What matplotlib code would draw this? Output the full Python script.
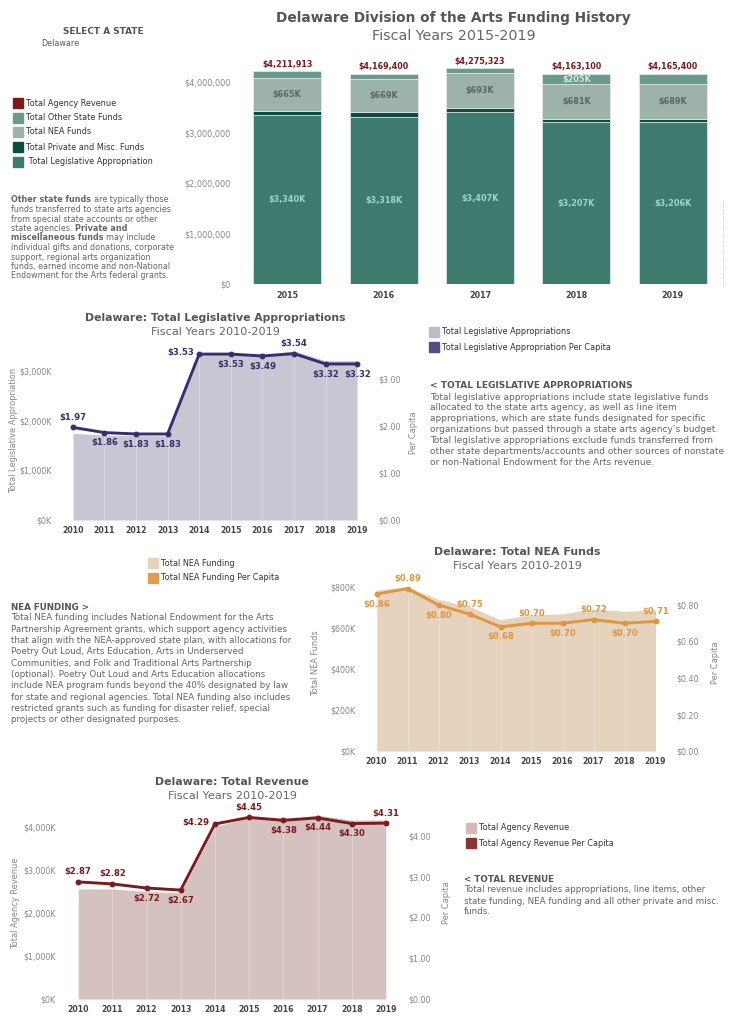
import matplotlib
matplotlib.use('Agg')
import matplotlib.pyplot as plt
from matplotlib.patches import Rectangle

plt.rcParams['font.family'] = ['DejaVu Sans']

W, H = 731, 1024

# ---- top stacked bars (FY 2015-2019) ----
bar_years = ['2015', '2016', '2017', '2018', '2019']
leg_approp = [3340000, 3318000, 3407000, 3207000, 3206000]
private_misc = [85000, 82000, 88000, 70000, 68000]
nea_funds = [665000, 669000, 693000, 681000, 689000]
other_state = [122000, 100000, 87000, 205000, 202000]
total_rev = [4211913, 4169400, 4275323, 4163100, 4165400]
other_lbl_show = [False, False, False, True, False]

# ---- time series (FY 2010-2019), totals in $K ----
ts_years = ['2010', '2011', '2012', '2013', '2014', '2015', '2016', '2017', '2018', '2019']
leg_total = [1745, 1710, 1700, 1695, 3330, 3340, 3318, 3407, 3207, 3206]
leg_pc = [1.97, 1.86, 1.83, 1.83, 3.53, 3.53, 3.49, 3.54, 3.32, 3.32]
leg_lbl_pos = ['up', 'down', 'down', 'down', 'left', 'down', 'down', 'up', 'down', 'down']

nea_total = [785, 800, 740, 705, 640, 665, 669, 693, 681, 689]
nea_pc = [0.86, 0.89, 0.80, 0.75, 0.68, 0.70, 0.70, 0.72, 0.70, 0.71]
nea_lbl_pos = ['down', 'up', 'down', 'up', 'down', 'up', 'down', 'up', 'down', 'up']

rev_total = [2560, 2560, 2500, 2470, 4010, 4212, 4169, 4275, 4163, 4165]
rev_pc = [2.87, 2.82, 2.72, 2.67, 4.29, 4.45, 4.38, 4.44, 4.30, 4.31]
rev_lbl_pos = ['up', 'up', 'down', 'down', 'left', 'up', 'down', 'down', 'down', 'up']

# colours
c_leg = '#3e7b6f'
c_priv = '#0c4c3e'
c_nea = '#9db2a8'
c_other = '#6b998c'
c_rev = '#7a1a1a'
c_title = '#555555'
c_tick = '#888888'
c_body = '#666666'

fig = plt.figure(figsize=(W / 100, H / 100), dpi=100)
R = fig.canvas.get_renderer()


def fx(x):
    return x / W


def fy(y):
    return 1 - y / H


def ax_px(x0, y0, x1, y1):
    return fig.add_axes([x0 / W, 1 - y1 / H, (x1 - x0) / W, (y1 - y0) / H])


def fit(txt, width, bold=False):
    # font size that makes txt about `width` pixels wide
    t = fig.text(0, 0, txt, fontsize=10, fontweight='bold' if bold else 'normal')
    w = t.get_window_extent(renderer=R).width
    t.remove()
    return 10 * width / w


def clean(ax):
    for s in ax.spines.values():
        s.set_visible(False)
    ax.tick_params(length=0)
    ax.set_facecolor('none')


LEG_SIZE = fit('Total Agency Revenue', 90)
TICK_SIZE = 5.85
TS_TICK = 5.7
AXT_SIZE = fit('Total Legislative Appropriation', 126)


def legend_item(x, y, color, label):
    fig.patches.append(Rectangle((fx(x), fy(y + 5)), 10 / W, 10 / H, color=color,
                                 transform=fig.transFigure, figure=fig))
    fig.text(fx(x + 13), fy(y), label, fontsize=LEG_SIZE, color='#333333', va='center')


def para(x, y, lines, step, size, color=c_body):
    gap = size * 0.318 * 100 / 72
    for i, runs in enumerate(lines):
        if isinstance(runs, str):
            runs = [(runs, False)]
        cx = x
        for txt, bold in runs:
            t = fig.text(fx(cx), fy(y + i * step), txt, fontsize=size, color=color,
                         fontweight='bold' if bold else 'normal', va='center', ha='left')
            cx += t.get_window_extent(renderer=R).width + gap


def sect_title(x, y, title, width):
    fig.text(fx(x), fy(y), title, fontsize=fit(title, width, True), fontweight='bold',
             color=c_title, ha='center', va='center')
    fig.text(fx(x), fy(y + 14), 'Fiscal Years 2010-2019', fontsize=fit('Fiscal Years 2010-2019', 128),
             color='#666666', ha='center', va='center')


def heading(x, y, txt, width):
    fig.text(fx(x), fy(y), txt, fontsize=fit(txt, width, True), fontweight='bold',
             color='#555555', va='center')


# ================= header =================
ttl = 'Delaware Division of the Arts Funding History'
fig.text(fx(453), fy(18), ttl, fontsize=fit(ttl, 356, True), fontweight='bold', color=c_title,
         ha='center', va='center')
fig.text(fx(454), fy(36), 'Fiscal Years 2015-2019', fontsize=fit('Fiscal Years 2015-2019', 163),
         color='#666666', ha='center', va='center')
fig.text(fx(103), fy(32), 'SELECT A STATE', fontsize=fit('SELECT A STATE', 80, True),
         fontweight='bold', color='#555555', ha='center', va='center')
fig.text(fx(41), fy(43), 'Delaware', fontsize=fit('Delaware', 38), color='#555555', va='center')

legend_item(13, 103, c_rev, 'Total Agency Revenue')
legend_item(13, 118, c_other, 'Total Other State Funds')
legend_item(13, 132, c_nea, 'Total NEA Funds')
legend_item(13, 147, c_priv, 'Total Private and Misc. Funds')
legend_item(13, 162, c_leg, ' Total Legislative Appropriation')

para(11, 200, [
    [('Other state funds', True), ('are typically those', False)],
    'funds transferred to state arts agencies',
    'from special state accounts or other',
    [('state agencies.', False), ('Private and', True)],
    [('miscellaneous funds', True), ('may include', False)],
    'individual gifts and donations, corporate',
    'support, regional arts organization',
    'funds, earned income and non-National',
    'Endowment for the Arts federal grants.',
], 9.5, fit('individual gifts and donations, corporate', 162))

# ================= stacked bar chart =================
ax = ax_px(239, 62, 721, 284)
clean(ax)
xs = list(range(len(bar_years)))
bottom = [0] * len(xs)
for vals, col in [(leg_approp, c_leg), (private_misc, c_priv), (nea_funds, c_nea), (other_state, c_other)]:
    ax.bar(xs, vals, width=0.705, bottom=bottom, color=col, edgecolor='#e6ecea', linewidth=0.5)
    bottom = [b + v for b, v in zip(bottom, vals)]

for i in xs:
    ax.annotate(f'${total_rev[i]:,}', (i, bottom[i]), xytext=(0, 2), textcoords='offset points',
                ha='center', va='bottom', fontsize=5.8, fontweight='bold', color=c_rev)
    ax.text(i, leg_approp[i] / 2, f'${leg_approp[i] / 1000:,.0f}K', ha='center', va='center',
            fontsize=5.9, fontweight='bold', color='#9dd6c6')
    nb = leg_approp[i] + private_misc[i]
    ax.text(i, nb + nea_funds[i] / 2, f'${nea_funds[i] / 1000:,.0f}K', ha='center', va='center',
            fontsize=5.9, fontweight='bold', color='#5a6863')
    if other_lbl_show[i]:
        ob = nb + nea_funds[i]
        ax.text(i, ob + other_state[i] / 2, f'${other_state[i] / 1000:,.0f}K', ha='center',
                va='center', fontsize=5.9, fontweight='bold', color='#cdeee4')

ax.set_xlim(-0.5, 4.5)
ax.set_ylim(0, 4400000)
ax.set_yticks([0, 1000000, 2000000, 3000000, 4000000])
ax.set_yticklabels(['$0', '$1,000,000', '$2,000,000', '$3,000,000', '$4,000,000'])
ax.set_xticks(xs)
ax.set_xticklabels(bar_years)
ax.tick_params(axis='y', colors=c_tick, labelsize=TICK_SIZE, pad=6)
ax.tick_params(axis='x', colors='#444444', labelsize=5.8, pad=5)
for lb in ax.get_xticklabels():
    lb.set_fontweight('bold')
fig.add_artist(plt.Line2D([fx(723), fx(723)], [fy(200), fy(288)], color='#bbbbbb',
                          linestyle=':', linewidth=0.6))


def ts_chart(box, totals, pcs, pos, area_col, line_col, left_top, right_top,
             left_ticks, left_lbls, right_ticks, right_lbls):
    a1 = ax_px(*box)
    clean(a1)
    xs = list(range(len(ts_years)))
    a1.fill_between(xs, 0, totals, color=area_col, linewidth=0)
    a1.vlines(xs, 0, totals, color='white', alpha=0.35, linewidth=0.6)
    a1.set_xlim(-0.5, 9.5)
    a1.set_ylim(0, left_top)
    a1.set_yticks(left_ticks)
    a1.set_yticklabels(left_lbls)
    a1.set_xticks(xs)
    a1.set_xticklabels(ts_years)
    a1.tick_params(axis='y', colors=c_tick, labelsize=TS_TICK, pad=4)
    a1.tick_params(axis='x', colors='#444444', labelsize=5.6, pad=4)
    for lb in a1.get_xticklabels():
        lb.set_fontweight('bold')
    a2 = a1.twinx()
    clean(a2)
    a2.plot(xs, pcs, color=line_col, linewidth=2.1, marker='o', markersize=3.2)
    a2.set_ylim(0, right_top)
    a2.set_yticks(right_ticks)
    a2.set_yticklabels(right_lbls)
    a2.tick_params(axis='y', colors=c_tick, labelsize=TS_TICK, pad=4)
    offs = {'up': (0, 4, 'center', 'bottom'), 'down': (0, -4, 'center', 'top'),
            'left': (-4, 1, 'right', 'center')}
    for i in xs:
        dx, dy, ha, va = offs[pos[i]]
        a2.annotate(f'${pcs[i]:.2f}', (i, pcs[i]), xytext=(dx, dy), textcoords='offset points',
                    ha=ha, va=va, fontsize=6.1, fontweight='bold', color=line_col)
    return a1, a2


def axis_title(x, y, txt):
    fig.text(fx(x), fy(y), txt, rotation=90, fontsize=AXT_SIZE, color=c_tick,
             ha='center', va='center')


# ================= legislative appropriations =================
sect_title(215, 318, 'Delaware: Total Legislative Appropriations', 263)
ts_chart((57, 340, 373, 520), leg_total, leg_pc, leg_lbl_pos, '#c9c6d3', '#3b2c6b',
         (520 - 340) / 49.67 * 1000, (520 - 340) / 47.0,
         [0, 1000, 2000, 3000], ['$0K', '$1,000K', '$2,000K', '$3,000K'],
         [0, 1, 2, 3], ['$0.00', '$1.00', '$2.00', '$3.00'])
axis_title(14, 430, 'Total Legislative Appropriation')
axis_title(413, 433, 'Per Capita')
legend_item(429, 332, '#bdbac9', 'Total Legislative Appropriations')
legend_item(429, 347, '#574a85', 'Total Legislative Appropriation Per Capita')
heading(430, 385, '< TOTAL LEGISLATIVE APPROPRIATIONS', 202)
para(430, 397, [
    'Total legislative appropriations include state legislative funds',
    'allocated to the state arts agency, as well as line item',
    'appropriations, which are state funds designated for specific',
    'organizations but passed through a state arts agency\u2019s budget.',
    'Total legislative appropriations exclude funds transferred from',
    'other state departments/accounts and other sources of nonstate',
    'or non-National Endowment for the Arts revenue.',
], 10.9, fit('Total legislative appropriations include state legislative funds', 277))

# ================= NEA funds =================
sect_title(517, 552, 'Delaware: Total NEA Funds', 167)
ts_chart((361, 578, 671, 751), nea_total, nea_pc, nea_lbl_pos, '#e6d3bd', '#df963e',
         (751 - 578) / 0.205, (751 - 578) / 182.5,
         [0, 200, 400, 600, 800], ['$0K', '$200K', '$400K', '$600K', '$800K'],
         [0, 0.2, 0.4, 0.6, 0.8], ['$0.00', '$0.20', '$0.40', '$0.60', '$0.80'])
axis_title(316, 663, 'Total NEA Funds')
axis_title(716, 663, 'Per Capita')
legend_item(148, 563, '#e6d3bd', 'Total NEA Funding')
legend_item(148, 578, '#df9d52', 'Total NEA Funding Per Capita')
heading(11, 607, 'NEA FUNDING >', 79)
para(11, 618, [
    'Total NEA funding includes National Endowment for the Arts',
    'Partnership Agreement grants, which support agency activities',
    'that align with the NEA-approved state plan, with allocations for',
    'Poetry Out Loud, Arts Education, Arts in Underserved',
    'Communities, and Folk and Traditional Arts Partnership',
    '(optional). Poetry Out Loud and Arts Education allocations',
    'include NEA program funds beyond the 40% designated by law',
    'for state and regional agencies. Total NEA funding also includes',
    'restricted grants such as funding for disaster relief, special',
    'projects or other designated purposes.',
], 11.3, fit('that align with the NEA-approved state plan, with allocations for', 284))

# ================= total revenue =================
sect_title(232, 782, 'Delaware: Total Revenue', 154)
ts_chart((61, 805, 403, 999), rev_total, rev_pc, rev_lbl_pos, '#d5c2c0', '#7a1c1c',
         (999 - 805) / 43.0 * 1000, (999 - 805) / 40.8,
         [0, 1000, 2000, 3000, 4000], ['$0K', '$1,000K', '$2,000K', '$3,000K', '$4,000K'],
         [0, 1, 2, 3, 4], ['$0.00', '$1.00', '$2.00', '$3.00', '$4.00'])
axis_title(16, 903, 'Total Agency Revenue')
axis_title(447, 903, 'Per Capita')
legend_item(466, 828, '#d5b9b6', 'Total Agency Revenue')
legend_item(466, 843, '#8a3434', 'Total Agency Revenue Per Capita')
heading(464, 879, '< TOTAL REVENUE', 91)
para(464, 890, [
    'Total revenue includes appropriations, line items, other',
    'state funding, NEA funding and all other private and misc.',
    'funds.',
], 11.0, fit('state funding, NEA funding and all other private and misc.', 256))

fig.savefig('out.png', dpi=100)
